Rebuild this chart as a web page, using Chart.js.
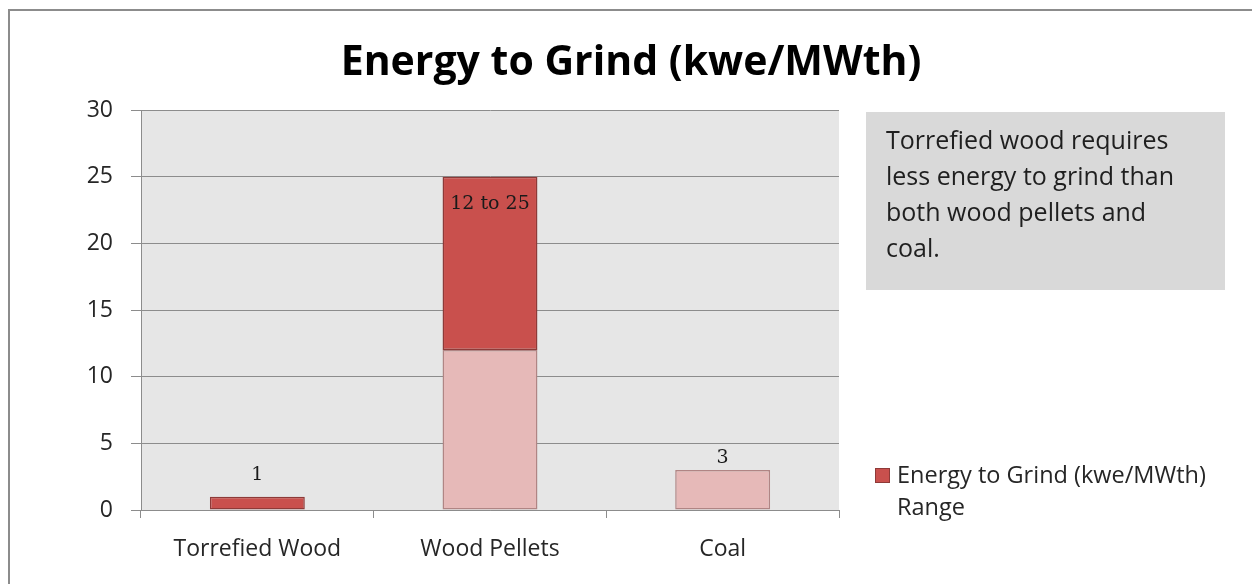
<!DOCTYPE html>
<html>
<head>
<meta charset="utf-8">
<title>Energy to Grind</title>
<script src="https://cdn.jsdelivr.net/npm/chart.js@4"></script>
<style>
  html, body { margin: 0; padding: 0; background: #fff; }
  .frame {
    position: absolute; left: 8px; top: 9px; width: 1300px; height: 620px;
    border-top: 2px solid #8c8c8c; border-left: 2px solid #8c8c8c;
  }
  .charts-wrapper { position: absolute; left: 0; top: 0; width: 1252px; height: 584px; }
</style>
</head>
<body>
<div class="frame"></div>
<div class="charts-wrapper"><canvas class="charts" width="1252" height="584"></canvas></div>
<script>
const categories = ['Torrefied Wood', 'Wood Pellets', 'Coal'];
const baseValues = [null, 12, 3];
const rangeValues = [1, 13, null];
const valueLabels = ['1', '12 to 25', '3'];
const yMin = 0;
const yMax = 30;
const yStep = 5;
const chartTitle = 'Energy to Grind (kwe/MWth)';
const baseName = 'Energy to Grind (kwe/MWth)';
const rangeName = 'Energy to Grind (kwe/MWth) Range';
const legendLines = ['Energy to Grind (kwe/MWth)', 'Range'];
const noteLines = ['Torrefied wood requires', 'less energy to grind than', 'both wood pellets and', 'coal.'];

const DARK = '#c9504d';
const DARK_BORDER = '#8e3a38';
const LIGHT = '#e6b9b8';
const LIGHT_BORDER = '#b08584';
const GRID = '#8c8c8c';
const TEXT = '#262626';

// grey plot background
const plotBackground = {
  id: 'plotBackground',
  beforeDraw(chart) {
    const { ctx, chartArea: a } = chart;
    ctx.save();
    ctx.fillStyle = '#e6e6e6';
    ctx.fillRect(a.left, a.top, a.right - a.left, a.bottom - a.top);
    ctx.restore();
  },
};

// value labels over / inside the stacks
const valueLabelPlugin = {
  id: 'valueLabels',
  afterDatasetsDraw(chart, args, opts) {
    const { ctx } = chart;
    const baseMeta = chart.getDatasetMeta(0);
    const rangeMeta = chart.getDatasetMeta(1);
    ctx.save();
    ctx.font = '19px "DejaVu Serif", serif';
    ctx.fillStyle = '#1a1a1a';
    ctx.textAlign = 'center';
    ctx.textBaseline = 'middle';
    valueLabels.forEach((txt, i) => {
      const el = rangeValues[i] != null ? rangeMeta.data[i] : baseMeta.data[i];
      const shift = opts.shift[i];
      ctx.fillText(txt, el.x, el.y + shift);
    });
    ctx.restore();
  },
};

// text box and legend on the right
const sidePanel = {
  id: 'sidePanel',
  afterDraw(chart) {
    const { ctx } = chart;
    ctx.save();
    ctx.fillStyle = '#d9d9d9';
    ctx.fillRect(866, 112, 359, 178);
    ctx.fillStyle = '#1f1f1f';
    ctx.font = '25px "Open Sans", sans-serif';
    ctx.textBaseline = 'middle';
    ctx.textAlign = 'left';
    noteLines.forEach((line, i) => ctx.fillText(line, 886, 142 + i * 36));

    const ds = chart.data.datasets[1];
    ctx.fillStyle = ds.backgroundColor;
    ctx.fillRect(875, 468, 15, 15);
    ctx.strokeStyle = ds.borderColor;
    ctx.lineWidth = 1;
    ctx.strokeRect(875.5, 468.5, 14, 14);
    ctx.fillStyle = TEXT;
    ctx.font = '23.5px "Open Sans", sans-serif';
    legendLines.forEach((line, i) => ctx.fillText(line, 897, 476 + i * 32));
    ctx.restore();
  },
};

const ctx = document.querySelector('.charts').getContext('2d');
new Chart(ctx, {
  type: 'bar',
  data: {
    labels: categories,
    datasets: [
      {
        label: baseName,
        data: baseValues,
        backgroundColor: LIGHT,
        borderColor: LIGHT_BORDER,
        borderWidth: 1.5,
        borderSkipped: false,
        categoryPercentage: 0.8,
        barPercentage: 0.51,
      },
      {
        label: rangeName,
        data: rangeValues,
        backgroundColor: DARK,
        borderColor: DARK_BORDER,
        borderWidth: 1.5,
        borderSkipped: false,
        categoryPercentage: 0.8,
        barPercentage: 0.51,
      },
    ],
  },
  options: {
    responsive: false,
    animation: false,
    layout: { padding: { left: 10, top: 0, right: 0, bottom: 0 } },
    scales: {
      x: {
        stacked: true,
        grid: { drawOnChartArea: false, offset: true, tickLength: 8, color: GRID },
        border: { color: GRID },
        ticks: { color: TEXT, padding: 18, font: { family: 'Open Sans', size: 23 } },
        afterFit(s) { s.height = 74; },
      },
      y: {
        stacked: true,
        min: yMin,
        max: yMax,
        ticks: { stepSize: yStep, color: TEXT, padding: 18, font: { family: 'Open Sans', size: 23 } },
        grid: { color: GRID, tickLength: 10 },
        border: { color: GRID },
        afterFit(s) { s.width = 131; },
      },
      pad: {
        type: 'linear',
        position: 'right',
        grid: { display: false },
        border: { display: false },
        ticks: { display: false },
        afterFit(s) { s.width = 413; },
      },
    },
    plugins: {
      legend: { display: false },
      tooltip: { enabled: false },
      title: {
        display: true,
        text: chartTitle,
        color: '#000',
        font: { family: 'Open Sans', size: 41, weight: 'bold' },
        padding: { top: 39, bottom: 21.8 },
      },
      valueLabels: { shift: [-22, 27, -12] },
    },
  },
  plugins: [plotBackground, valueLabelPlugin, sidePanel],
});
</script>
</body>
</html>
